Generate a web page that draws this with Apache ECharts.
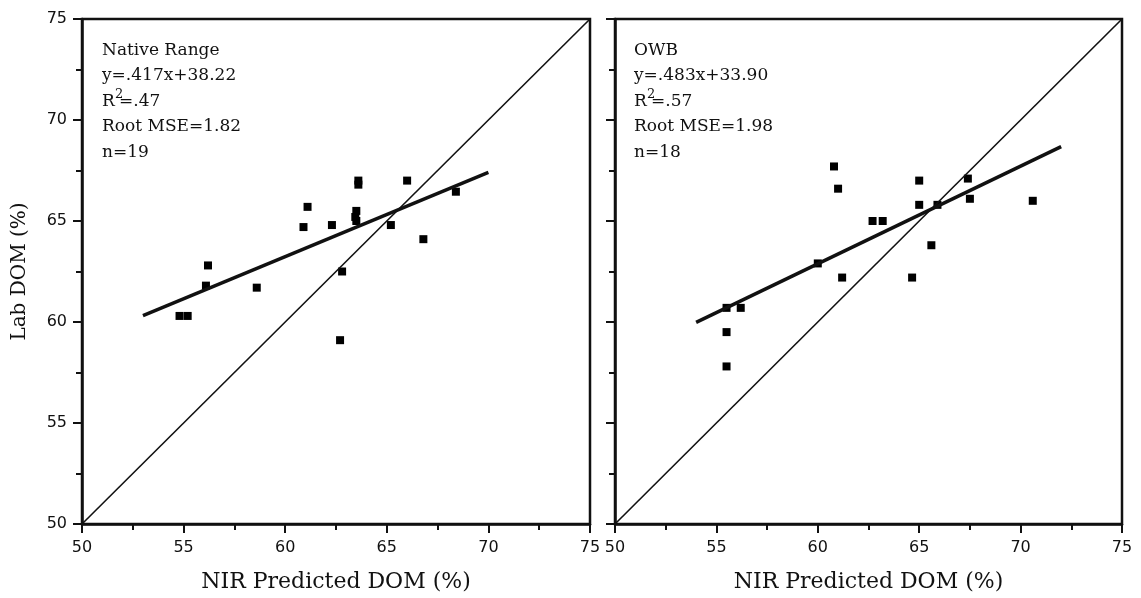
<!DOCTYPE html>
<html>
<head>
<meta charset="utf-8">
<script src="https://cdn.jsdelivr.net/npm/echarts@6/dist/echarts.min.js"></script>
<style>html,body{margin:0;padding:0;background:#fff;}#c{width:1141px;height:598px;}</style>
</head>
<body>
<div id="c"></div>
<script>
// Native Range panel: [NIR predicted DOM, Lab DOM]
const nativePoints = [
  [63.6, 67.0], [63.6, 66.8], [66.0, 67.0], [68.4, 66.45], [61.1, 65.7],
  [63.5, 65.5], [63.45, 65.2], [63.5, 65.0], [60.9, 64.7], [62.3, 64.8],
  [65.2, 64.8], [66.8, 64.1], [56.2, 62.8], [56.1, 61.8], [58.6, 61.7],
  [62.8, 62.5], [54.8, 60.3], [55.2, 60.3], [62.7, 59.1]
];
// OWB panel
const owbPoints = [
  [60.8, 67.7], [61.0, 66.6], [65.0, 67.0], [67.4, 67.1], [65.0, 65.8],
  [65.9, 65.8], [67.5, 66.1], [70.6, 66.0], [62.7, 65.0], [63.2, 65.0],
  [65.6, 63.8], [60.0, 62.9], [61.2, 62.2], [64.65, 62.2], [55.5, 60.7],
  [56.2, 60.7], [55.5, 59.5], [55.5, 57.8]
];
// regression line endpoints (y=.417x+38.22 over 53-70, y=.483x+33.90 over 54-72)
const nativeFit = [[53, 60.32], [70, 67.41]];
const owbFit = [[54, 59.98], [72, 68.68]];
// 1:1 line
const oneToOne = [[50, 50], [75, 75]];
const axisMin = 50, axisMax = 75, axisStep = 5;
const nativeText = ['Native Range', 'y=.417x+38.22', '=.47', 'Root MSE=1.82', 'n=19'];
const owbText = ['OWB', 'y=.483x+33.90', '=.57', 'Root MSE=1.98', 'n=18'];
const xTitle = 'NIR Predicted DOM (%)';
const yTitle = 'Lab DOM (%)';

const chart = echarts.init(document.getElementById('c'), null, {renderer: 'canvas'});
const serif = 'DejaVu Serif';
const sans = 'DejaVu Sans';
const ink = '#111';

function xAxis(idx) {
  return {
    type: 'value', gridIndex: idx, min: axisMin, max: axisMax, interval: axisStep,
    name: xTitle, nameLocation: 'middle', nameGap: 47,
    nameTextStyle: {fontFamily: serif, fontSize: 22, color: ink},
    axisLine: {show: true, onZero: false, lineStyle: {color: ink, width: 2.5}},
    axisTick: {show: true, length: 9, lineStyle: {color: ink, width: 2}},
    minorTick: {show: true, splitNumber: 2, length: 6, lineStyle: {color: ink, width: 2}},
    axisLabel: {fontFamily: sans, fontSize: 16, color: ink, margin: 16},
    splitLine: {show: false}
  };
}
function yAxis(idx, labels) {
  return {
    type: 'value', gridIndex: idx, min: axisMin, max: axisMax, interval: axisStep,
    name: labels ? yTitle : '', nameLocation: 'middle', nameGap: 52,
    nameTextStyle: {fontFamily: serif, fontSize: 20, color: ink},
    axisLine: {show: true, onZero: false, lineStyle: {color: ink, width: 2.5}},
    axisTick: {show: true, length: 9, lineStyle: {color: ink, width: 2}},
    minorTick: {show: true, splitNumber: 2, length: 6, lineStyle: {color: ink, width: 2}},
    axisLabel: {show: labels, fontFamily: sans, fontSize: 16, color: ink, margin: 15},
    splitLine: {show: false}
  };
}
function seriesFor(idx, pts, fit) {
  return [
    {type: 'line', xAxisIndex: idx, yAxisIndex: idx, data: oneToOne, symbol: 'none',
     lineStyle: {color: ink, width: 1.6}, silent: true, animation: false},
    {type: 'line', xAxisIndex: idx, yAxisIndex: idx, data: fit, symbol: 'none',
     lineStyle: {color: ink, width: 3.5}, silent: true, animation: false},
    {type: 'scatter', xAxisIndex: idx, yAxisIndex: idx, data: pts, symbol: 'rect',
     symbolSize: 8, itemStyle: {color: '#000', opacity: 1}, animation: false}
  ];
}
function annot(x0, lines) {
  const ys = [53, 78.5, 104, 129.5, 155];
  const font = '17px "DejaVu Serif"';
  const els = [];
  lines.forEach((t, i) => {
    if (i === 2) {
      els.push({type: 'text', left: x0, top: ys[i] - 11, style: {text: 'R', font: font, fill: ink}});
      els.push({type: 'text', left: x0 + 13, top: ys[i] - 16, style: {text: '2', font: '13px "DejaVu Serif"', fill: ink}});
      els.push({type: 'text', left: x0 + 17, top: ys[i] - 11, style: {text: t, font: font, fill: ink}});
    } else {
      els.push({type: 'text', left: x0, top: ys[i] - 11, style: {text: t, font: font, fill: ink}});
    }
  });
  return els;
}

chart.setOption({
  animation: false,
  backgroundColor: '#fff',
  grid: [
    {left: 82, top: 19, width: 508, height: 505, show: true, borderColor: ink, borderWidth: 2.5, backgroundColor: 'transparent'},
    {left: 615, top: 19, width: 507, height: 505, show: true, borderColor: ink, borderWidth: 2.5, backgroundColor: 'transparent'}
  ],
  xAxis: [xAxis(0), xAxis(1)],
  yAxis: [yAxis(0, true), yAxis(1, false)],
  series: [...seriesFor(0, nativePoints, nativeFit), ...seriesFor(1, owbPoints, owbFit)],
  graphic: [...annot(102, nativeText), ...annot(634, owbText)]
});
</script>
</body>
</html>
